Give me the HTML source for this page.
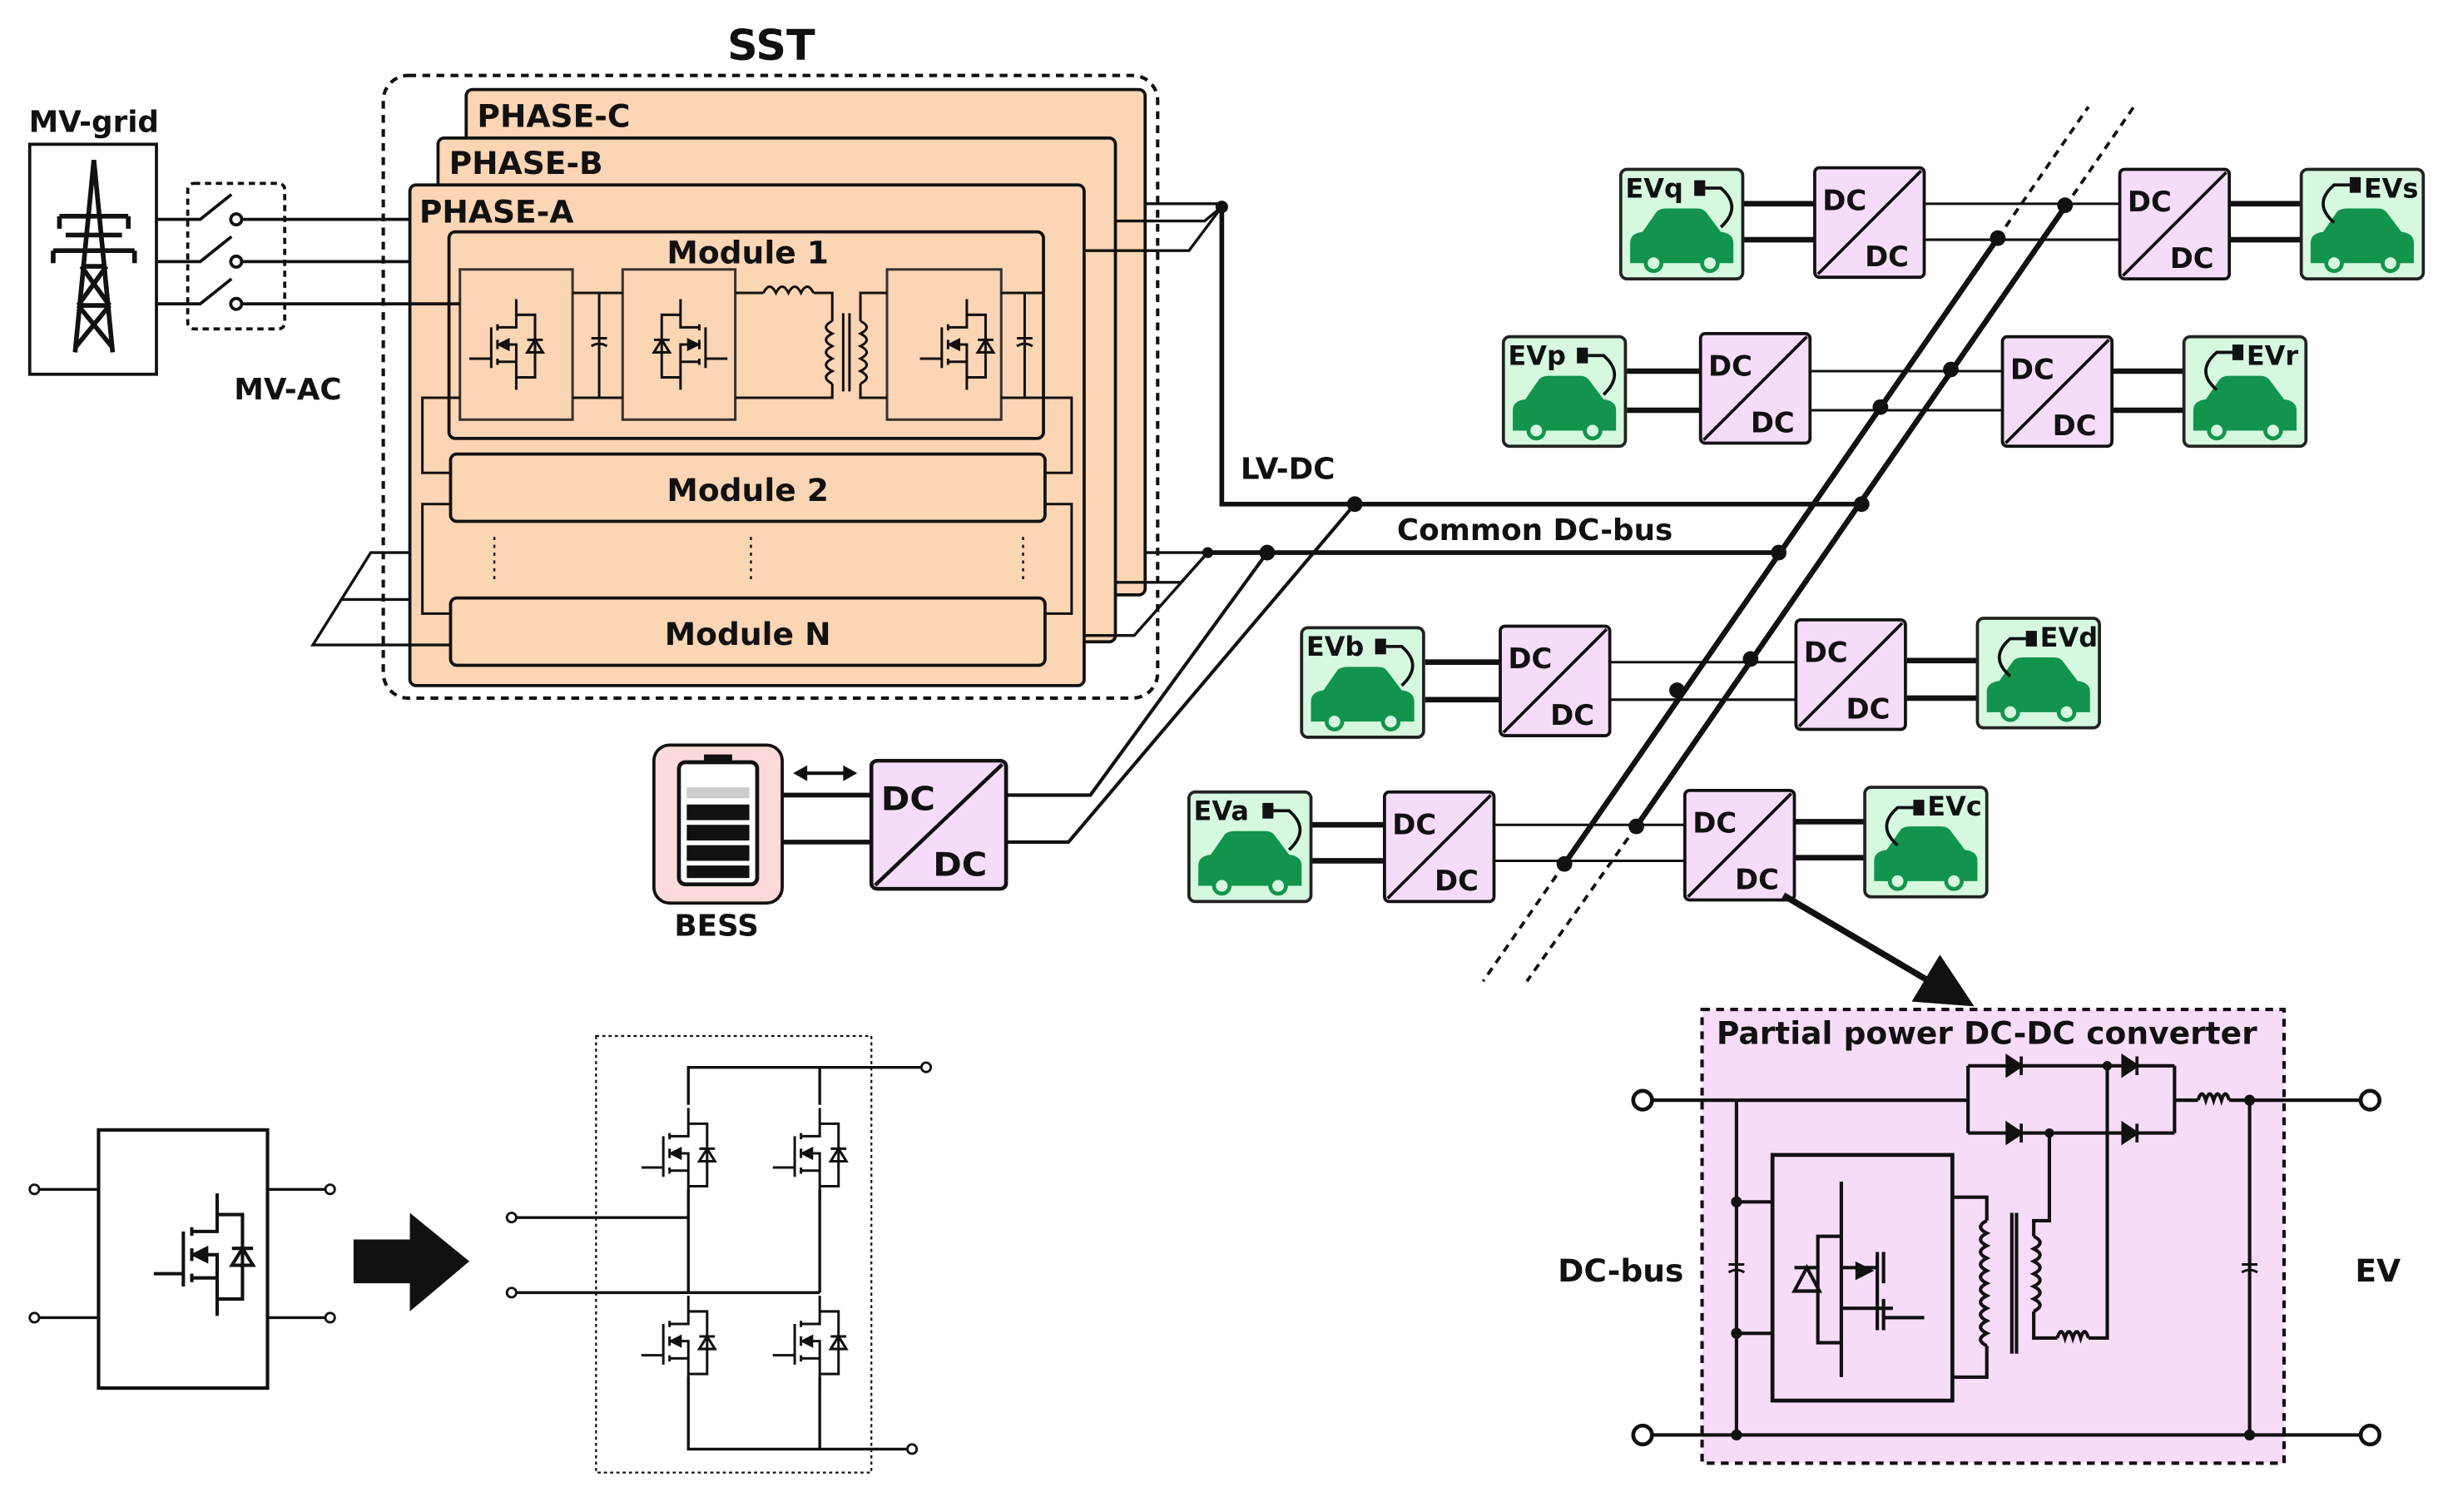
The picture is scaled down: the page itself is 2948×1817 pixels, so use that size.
<!DOCTYPE html>
<html><head><meta charset="utf-8"><style>
html,body{margin:0;padding:0;background:#fff}
svg{display:block}
text{font-family:"DejaVu Sans","Liberation Sans",sans-serif;fill:#111;font-weight:bold}
</style></head><body>
<svg width="2948" height="1817" viewBox="0 0 1568 966" xmlns="http://www.w3.org/2000/svg">
<defs>
<g id="mos" fill="none" stroke="#111" stroke-width="1.6">
 <path d="M-22 34 H-8 M-8 14 V40 M-4 12 V16 M-4 22 V28 M-4 34 V38 M-4 14 H8 V-4 M-4 36 H8 V54 M-4 25 H8 V36 M8 6 H20 V46 H8"/>
 <path d="M-3 25 L3 22 V28 Z" fill="#111"/>
 <path d="M15 30 L20 22 L25 30 Z M15 22 H25" fill="none"/>
</g>
<g id="cap" stroke="#111" stroke-width="1.6" fill="none"><path d="M-5 -2 H5 M-5 3 Q0 0 5 3"/></g>
<g id="dcdc">
 <rect x="0" y="0" width="70" height="70" rx="3" fill="#f5dcf8" stroke="#111" stroke-width="2"/>
 <path d="M2 68 L68 2" stroke="#111" stroke-width="2"/>
 <text x="5" y="27" font-size="18">DC</text>
 <text x="32" y="63" font-size="18">DC</text>
</g>
<g id="car">
 <path d="M6 60 V47 Q6 41 14 40 L23 27 Q25 25 29 25 H49 Q53 25 55 28 L64 40 Q72 41 72 47 V60 Z" fill="#13944c"/>
 <circle cx="21" cy="60" r="5" fill="#d5f8df" stroke="#13944c" stroke-width="2.5"/>
 <circle cx="57" cy="60" r="5" fill="#d5f8df" stroke="#13944c" stroke-width="2.5"/>
</g>
<g id="evbox"><rect x="0" y="0" width="78" height="70" rx="4" fill="#d5f8df" stroke="#222" stroke-width="2"/></g>
</defs>

<!-- ================= SST ================= -->
<text x="493" y="38" font-size="27" text-anchor="middle">SST</text>
<rect x="245" y="48" width="495" height="398" rx="16" fill="none" stroke="#111" stroke-width="2.2" stroke-dasharray="5,4"/>
<rect x="298" y="57" width="434" height="323" rx="4" fill="#fcd5b4" stroke="#111" stroke-width="2"/>
<text x="305" y="81" font-size="20">PHASE-C</text>
<rect x="280" y="88" width="433" height="322" rx="4" fill="#fcd5b4" stroke="#111" stroke-width="2"/>
<text x="287" y="111" font-size="20">PHASE-B</text>
<rect x="262" y="118" width="431" height="320" rx="4" fill="#fcd5b4" stroke="#111" stroke-width="2"/>
<text x="268" y="142" font-size="20">PHASE-A</text>

<!-- Module 1 -->
<rect x="287" y="148" width="380" height="132" rx="4" fill="#fcd5b4" stroke="#111" stroke-width="2"/>
<text x="478" y="168" font-size="20" text-anchor="middle">Module 1</text>
<g fill="#fcd5b4" stroke="#333" stroke-width="1.6">
<rect x="294" y="172" width="72" height="96"/>
<rect x="398" y="172" width="72" height="96"/>
<rect x="567" y="172" width="73" height="96"/>
</g>
<use href="#mos" x="322" y="195"/>
<g transform="translate(443,195) scale(-1,1)"><use href="#mos"/></g>
<use href="#mos" x="610" y="195"/>
<g stroke="#111" stroke-width="1.6" fill="none">
 <path d="M366 187 H398 M366 254 H398 M383 187 V254"/>
 <path d="M640 187 H667 M640 254 H667 M655 187 V254"/>
 <path d="M470 187 H488 M520 187 H532 V205 M470 254 H532 V245 M567 187 H550 V205 M567 254 H550 V245"/>
 <path d="M488 187 q4 -8 8 0 q4 -8 8 0 q4 -8 8 0 q4 -8 8 0"/>
 <path d="M532 205 q-8 4 0 8 q-8 4 0 8 q-8 4 0 8 q-8 4 0 8 q-8 4 0 8"/>
 <path d="M550 205 q8 4 0 8 q8 4 0 8 q8 4 0 8 q8 4 0 8 q8 4 0 8"/>
 <path d="M539 200 V250 M543 200 V250"/>
</g>
<use href="#cap" x="383" y="218"/>
<use href="#cap" x="655" y="218"/>

<!-- Module 2 / N -->
<rect x="288" y="290" width="380" height="43" rx="4" fill="#fcd5b4" stroke="#111" stroke-width="2"/>
<text x="478" y="320" font-size="20" text-anchor="middle">Module 2</text>
<rect x="288" y="382" width="380" height="43" rx="4" fill="#fcd5b4" stroke="#111" stroke-width="2"/>
<text x="478" y="412" font-size="20" text-anchor="middle">Module N</text>
<g stroke="#111" stroke-width="1.3" stroke-dasharray="2,3">
<path d="M316 343 V370 M480 343 V370 M654 343 V370"/></g>
<g stroke="#111" stroke-width="1.6" fill="none">
 <path d="M294 254 H270 V302 H288 M288 322 H270 V392 H288"/>
 <path d="M640 254 H685 V302 H668 M668 322 H685 V392 H668"/>
</g>

<!-- MV grid -->
<text x="60" y="84" font-size="19" text-anchor="middle">MV-grid</text>
<rect x="19" y="92" width="81" height="147" fill="#fff" stroke="#111" stroke-width="2"/>
<g stroke="#111" stroke-width="3" fill="none" stroke-linejoin="round">
 <path d="M60 102 V118 M60 102 L48 225 M60 102 L72 225"/>
 <path d="M38 138 H82 M34 160 H86 M38 138 V146 M82 138 V146 M34 160 V168 M86 160 V168"/>
 <path d="M52 170 L70 195 M68 170 L50 195 M50 195 L72 222 M70 195 L48 222 M52 170 H68 M50 195 H70"/>
 <path d="M42 150 H78"/>
</g>
<!-- switches -->
<rect x="120" y="117" width="62" height="93" rx="4" fill="none" stroke="#111" stroke-width="2" stroke-dasharray="4,3"/>
<g stroke="#111" stroke-width="2" fill="none">
 <path d="M100 140 H128 L148 124 M100 167 H128 L148 151 M100 194 H128 L148 178"/>
 <circle cx="151" cy="140" r="3.5" fill="#fff"/><circle cx="151" cy="167" r="3.5" fill="#fff"/><circle cx="151" cy="194" r="3.5" fill="#fff"/>
 <path d="M155 140 H262 M155 167 H262 M155 194 H294"/>
</g>
<text x="184" y="255" font-size="19" text-anchor="middle">MV-AC</text>

<!-- left feedthrough lines -->
<g stroke="#111" stroke-width="1.8" fill="none">
 <path d="M262 353 H237 L200 412 H288"/>
 <path d="M262 383 H218"/>
</g>

<!-- SST outputs -->
<g stroke="#111" stroke-width="1.8" fill="none">
 <path d="M732 130 H781"/>
 <path d="M713 141 H770 L781 132"/>
 <path d="M693 160 H760 L781 132"/>
 <path d="M732 353 H772"/>
 <path d="M713 372 H755 L772 353"/>
 <path d="M693 406 H725 L772 353"/>
</g>
<path d="M781 132 V322 H1190" stroke="#111" stroke-width="3" fill="none"/>
<path d="M772 353 H1137" stroke="#111" stroke-width="3" fill="none"/>
<g fill="#111"><circle cx="781" cy="132" r="4"/><circle cx="772" cy="353" r="3.5"/><circle cx="810" cy="353" r="5"/><circle cx="866" cy="322" r="5"/><circle cx="1190" cy="322" r="5"/><circle cx="1137" cy="353" r="5"/></g>
<text x="793" y="306" font-size="19">LV-DC</text>
<text x="893" y="345" font-size="19">Common DC-bus</text>

<!-- BESS -->
<rect x="418" y="476" width="82" height="101" rx="10" fill="#fbdada" stroke="#111" stroke-width="2"/>
<rect x="434" y="487" width="50" height="78" rx="4" fill="#fff" stroke="#111" stroke-width="2.5"/>
<rect x="450" y="482" width="18" height="6" fill="#111"/>
<g fill="#111"><rect x="439" y="514" width="40" height="10"/><rect x="439" y="527" width="40" height="10"/><rect x="439" y="540" width="40" height="10"/><rect x="439" y="553" width="40" height="8"/></g>
<rect x="439" y="503" width="40" height="7" fill="#ccc"/>
<text x="458" y="598" font-size="19" text-anchor="middle">BESS</text>
<g stroke="#111" stroke-width="2.2"><path d="M512 494 H543"/></g>
<path d="M507 494 L516 489 V499 Z M548 494 L539 489 V499 Z" fill="#111"/>
<g stroke="#111" stroke-width="3" fill="none"><path d="M500 508 H557 M500 538 H557"/></g>
<g transform="translate(557,486) scale(1.23,1.17)"><use href="#dcdc"/></g>
<g stroke="#111" stroke-width="2.2" fill="none">
 <path d="M643 508 H697 L810 353"/>
 <path d="M643 538 H683 L866 322"/>
</g>

<!-- EV rows connectors -->
<g stroke="#111" fill="none">
 <path d="M1114 130 H1160 M1114 153 H1160 M1425 130 H1471 M1425 153 H1471" stroke-width="3.5"/>
 <path d="M1231 130 H1355 M1231 153 H1355" stroke-width="1.6"/>
 <path d="M1040 237 H1087 M1040 262 H1087 M1350 237 H1396 M1350 262 H1396" stroke-width="3.5"/>
 <path d="M1158 237 H1280 M1158 262 H1280" stroke-width="1.6"/>
 <path d="M911 423 H959 M911 447 H959 M1219 422 H1264 M1219 446 H1264" stroke-width="3.5"/>
 <path d="M1029 423 H1148 M1029 447 H1148" stroke-width="1.6"/>
 <path d="M838 527 H885 M838 550 H885 M1147 525 H1192 M1147 548 H1192" stroke-width="3.5"/>
 <path d="M955 527 H1077 M955 550 H1077" stroke-width="1.6"/>
</g>
<!-- big diagonal buses -->
<g stroke="#111" fill="none">
 <path d="M1000 552 L1277 152" stroke-width="3.5"/>
 <path d="M1046 528 L1320 132" stroke-width="3.5"/>
 <path d="M1000 552 L948 627 M1277 152 L1335 68 M1046 528 L976 627 M1320 132 L1364 68" stroke-width="2" stroke-dasharray="5,4"/>
</g>
<g fill="#111">
 <circle cx="1000" cy="552" r="5"/><circle cx="1046" cy="528" r="5"/>
 <circle cx="1072" cy="441" r="5"/><circle cx="1119" cy="421" r="5"/>
 <circle cx="1202" cy="260" r="5"/><circle cx="1247" cy="236" r="5"/>
 <circle cx="1277" cy="152" r="5"/><circle cx="1320" cy="131" r="5"/>
</g>

<!-- DC/DC boxes -->
<use href="#dcdc" x="1160" y="107"/><use href="#dcdc" x="1355" y="108"/>
<use href="#dcdc" x="1087" y="213"/><use href="#dcdc" x="1280" y="215"/>
<use href="#dcdc" x="959" y="400"/><use href="#dcdc" x="1148" y="396"/>
<use href="#dcdc" x="885" y="506"/><use href="#dcdc" x="1077" y="505"/>

<!-- EV boxes -->
<g>
 <use href="#evbox" x="1036" y="108"/><use href="#car" x="1036" y="108"/>
 <use href="#evbox" x="961" y="215"/><use href="#car" x="961" y="215"/>
 <use href="#evbox" x="832" y="401"/><use href="#car" x="832" y="401"/>
 <use href="#evbox" x="760" y="506"/><use href="#car" x="760" y="506"/>
 <use href="#evbox" x="1471" y="108"/><use href="#car" x="1471" y="108"/>
 <use href="#evbox" x="1396" y="215"/><use href="#car" x="1396" y="215"/>
 <use href="#evbox" x="1264" y="395"/><use href="#car" x="1264" y="395"/>
 <use href="#evbox" x="1192" y="503"/><use href="#car" x="1192" y="503"/>
</g>
<!-- plugs -->
<g stroke="#111" stroke-width="2" fill="none">
 <path d="M1100 145 Q1114 132 1100 120 H1090 M1025 252 Q1039 239 1025 227 H1015 M896 438 Q910 425 896 413 H886 M824 543 Q838 530 824 518 H814"/>
 <path d="M1492 142 Q1478 130 1492 118 H1502 M1417 249 Q1403 237 1417 225 H1427 M1285 432 Q1271 420 1285 408 H1295 M1213 540 Q1199 528 1213 516 H1223"/>
</g>
<g fill="#111">
 <rect x="1083" y="115" width="7" height="10"/><rect x="1008" y="222" width="7" height="10"/><rect x="879" y="408" width="7" height="10"/><rect x="807" y="513" width="7" height="10"/>
 <rect x="1502" y="113" width="7" height="10"/><rect x="1427" y="220" width="7" height="10"/><rect x="1295" y="403" width="7" height="10"/><rect x="1223" y="511" width="7" height="10"/>
</g>
<g font-size="17">
 <text x="1039" y="126">EVq</text><text x="964" y="233">EVp</text><text x="835" y="419">EVb</text><text x="763" y="524">EVa</text>
 <text x="1511" y="126">EVs</text><text x="1436" y="233">EVr</text><text x="1304" y="413">EVd</text><text x="1232" y="521">EVc</text>
</g>

<!-- arrow to zoom -->
<path d="M1140 572 L1235 628" stroke="#111" stroke-width="4"/>
<path d="M1262 643 L1222 640 L1240 610 Z" fill="#111"/>

<!-- ================= Partial power converter ================= -->
<rect x="1088" y="645" width="372" height="290" fill="#f7dcf8" stroke="#111" stroke-width="2.2" stroke-dasharray="5,4"/>
<text x="1270" y="667" font-size="20" text-anchor="middle">Partial power DC-DC converter</text>
<g stroke="#111" stroke-width="2.2" fill="none">
 <path d="M1056 703 H1258 M1258 681 V724 M1258 681 H1390 M1258 724 H1390 M1390 681 V724 M1390 703 H1405 M1425 703 H1509"/>
 <path d="M1405 703 q2.5 -8 5 0 q2.5 -8 5 0 q2.5 -8 5 0 q2.5 -8 5 0"/>
 <path d="M1056 917 H1509"/>
 <path d="M1110 703 V917 M1438 703 V917"/>
 <path d="M1110 768 H1133 M1110 852 H1133"/>
 <rect x="1133" y="738" width="115" height="157" stroke-width="2.5"/>
 <path d="M1248 765 H1270 V780 M1248 880 H1270 V860"/>
 <path d="M1270 780 q-8 4 0 8 q-8 4 0 8 q-8 4 0 8 q-8 4 0 8 q-8 4 0 8 q-8 4 0 8 q-8 4 0 8 q-8 4 0 8 q-8 4 0 8 q-8 4 0 8"/>
 <path d="M1286 775 V865 M1289 775 V865"/>
 <path d="M1300 790 q8 4 0 8 q8 4 0 8 q8 4 0 8 q8 4 0 8 q8 4 0 8 q8 4 0 8"/>
 <path d="M1300 790 V780 H1310 V724 M1300 838 V855 H1315 M1335 855 H1347 V681"/>
 <path d="M1315 855 q2.5 -8 5 0 q2.5 -8 5 0 q2.5 -8 5 0 q2.5 -8 5 0"/>
 <path d="M1177 755 V880 M1177 790 H1162 V858 H1177 M1177 810 H1200 M1177 836 H1210 M1200 800 V850 M1204 800 V820 M1204 830 V850 M1204 842 H1230"/>
 <path d="M1147 825 L1155 810 L1163 825 Z M1147 810 H1163"/>
</g>
<path d="M1186 806 L1198 812 L1186 818 Z" fill="#111"/>
<use href="#cap" x="1110" y="810"/><use href="#cap" x="1438" y="810"/>
<g fill="#111" stroke="#111" stroke-width="2">
 <path d="M1283 675 L1292 681 L1283 687 Z M1292 675 V687"/>
 <path d="M1357 675 L1366 681 L1357 687 Z M1366 675 V687"/>
 <path d="M1283 718 L1292 724 L1283 730 Z M1292 718 V730"/>
 <path d="M1357 718 L1366 724 L1357 730 Z M1366 718 V730"/>
</g>
<g fill="#111"><circle cx="1110" cy="768" r="3.5"/><circle cx="1110" cy="852" r="3.5"/><circle cx="1110" cy="917" r="3.5"/><circle cx="1438" cy="703" r="3.5"/><circle cx="1438" cy="917" r="3.5"/><circle cx="1347" cy="681" r="3"/><circle cx="1310" cy="724" r="3"/></g>
<g fill="#fff" stroke="#111" stroke-width="2.5">
 <circle cx="1050" cy="703" r="6"/><circle cx="1050" cy="917" r="6"/><circle cx="1515" cy="703" r="6"/><circle cx="1515" cy="917" r="6"/>
</g>
<text x="1036" y="819" font-size="20" text-anchor="middle">DC-bus</text>
<text x="1520" y="819" font-size="20" text-anchor="middle">EV</text>

<!-- ================= bottom-left ================= -->
<g stroke="#111" stroke-width="1.8" fill="none">
 <rect x="63" y="722" width="108" height="165" stroke-width="2.2"/>
 <path d="M25 760 H63 M25 842 H63 M171 760 H208 M171 842 H208"/>
</g>
<g fill="#fff" stroke="#111" stroke-width="1.5"><circle cx="22" cy="760" r="3"/><circle cx="22" cy="842" r="3"/><circle cx="211" cy="760" r="3"/><circle cx="211" cy="842" r="3"/></g>
<g transform="translate(128,768) scale(1.35)"><use href="#mos"/></g>
<path d="M226 792 H262 V775 L300 806 L262 838 V820 H226 Z" fill="#111"/>

<rect x="381" y="662" width="176" height="279" fill="none" stroke="#111" stroke-width="1.2" stroke-dasharray="2,2"/>
<g stroke="#111" stroke-width="1.8" fill="none">
 <path d="M440 706 V682 H589 M524 706 V682"/>
 <path d="M440 760 V826 M524 760 V826 M330 778 H440 M330 826 H524"/>
 <path d="M440 880 V926 H580 M524 880 V926"/>
</g>
<g fill="#fff" stroke="#111" stroke-width="1.5"><circle cx="592" cy="682" r="3"/><circle cx="327" cy="778" r="3"/><circle cx="327" cy="826" r="3"/><circle cx="583" cy="926" r="3"/></g>
<use href="#mos" x="432" y="712"/><use href="#mos" x="516" y="712"/>
<use href="#mos" x="432" y="832"/><use href="#mos" x="516" y="832"/>
</svg>
</body></html>
